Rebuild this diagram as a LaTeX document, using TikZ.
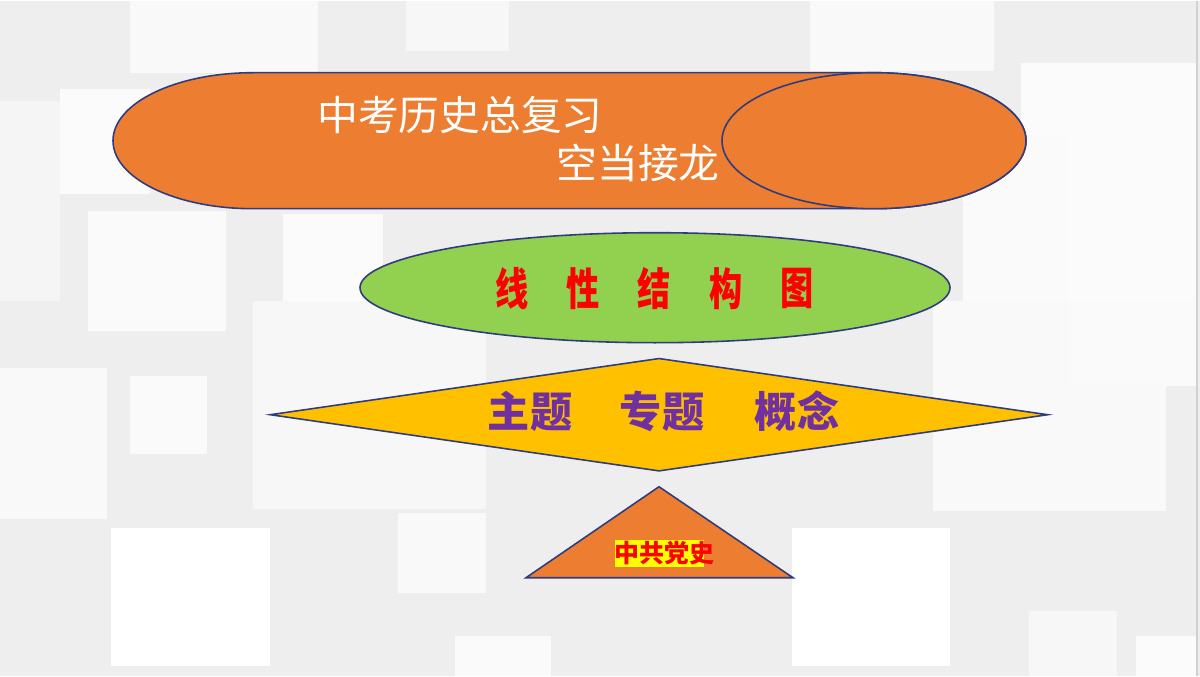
\documentclass[tikz,border=0pt]{standalone}
\usepackage{fontspec}
\newfontfamily\cjk{Noto Sans CJK SC}
\usetikzlibrary{shapes.geometric}
\definecolor{bgbase}{HTML}{EEEEEE}
\definecolor{orangeA}{HTML}{ED7D31}
\definecolor{greenA}{HTML}{92D050}
\definecolor{goldA}{HTML}{FFC000}
\definecolor{purpleA}{HTML}{7030A0}
\definecolor{navyA}{HTML}{2F3C7E}
\definecolor{markA}{HTML}{FFFF00}

\begin{document}
\begin{tikzpicture}[x=0.1mm, y=-0.1mm]
    \tikzstyle{Shape}=[draw=navyA, line width=0.45pt]
    \tikzstyle{TitleText}=[text=white, inner sep=0pt, font=\cjk\fontsize{11.6}{12}\selectfont]
    \tikzstyle{RedChar}=[text=red, inner sep=0pt, font=\cjk\bfseries\fontsize{12.6}{13}\selectfont]
    \tikzstyle{PurpleWord}=[text=purpleA, inner sep=0pt, font=\cjk\bfseries\fontsize{12}{13}\selectfont]
    % background with light tiles
    \fill[bgbase] (0,0) rectangle (1200,675);
    \foreach \xa/\ya/\xb/\yb/\g in {130/0/318/72/2.5, 406/0/509/50/3, 810/0/994/70/2.5,
        0/100/60/300/4, 60/88/150/193/1.5, 88/210/226/330/2, 283/213/383/317/1.5,
        1021/62/1197/340/1.5, 963/133/1067/317/2, 0/367/107/518/2.5, 130/375/207/453/2,
        253/300/486/508/3, 111/527/270/665/0, 398/512/486/592/2.5, 455/635/551/675/2,
        792/527/950/665/0, 933/300/1166/510/2.5, 1069/300/1197/385/2, 1029/610/1117/675/3,
        1136/635/1197/675/1.5}
        \fill[black!\g] (\xa,\ya) rectangle (\xb,\yb);
    \draw[black!18] (1197,0) -- (1197,675);
    % title bar
    \draw[Shape, fill=orangeA] (253,72) -- (874,72)
        arc[start angle=-90, end angle=90, x radius=152, y radius=68]
        -- (253,208) arc[start angle=90, end angle=270, x radius=140, y radius=68] -- cycle;
    \node[Shape, fill=orangeA, ellipse, inner sep=0pt, minimum width=30.4mm, minimum height=13.6mm] (oval) at (874,140) {};
    \node[TitleText] (title) at (460,114) {中考历史总复习};
    \node[TitleText] (subtitle) at (638,162) {空当接龙};
    % green ellipse
    \node[Shape, fill=greenA, ellipse, inner sep=0pt, minimum width=59mm, minimum height=11mm] (linear) at (655,287) {};
    \foreach \ch [count=\i from 0] in {线,性,结,构,图}
        \node[RedChar] (char\i) at (512+71.25*\i,288) {\scalebox{0.75}[1]{\ch}};
    % diamond
    \node[Shape, fill=goldA, diamond, inner sep=0pt, minimum width=77.8mm, minimum height=11.3mm] (topics) at (659,414) {};
    \foreach \w/\x [count=\i] in {主题/530, 专题/662, 概念/797}
        \node[PurpleWord] (word\i) at (\x,411) {\w};
    % triangle
    \coordinate (apex) at (659,486);
    \coordinate (baseR) at (793,577);
    \coordinate (baseL) at (526,577);
    \draw[Shape, fill=orangeA] (apex) -- (baseR) -- (baseL) -- cycle;
    \fill[markA] (615,539) rectangle (704,566);
    \node[anchor=west, text=red, inner sep=0pt, font=\cjk\bfseries\fontsize{7.1}{7.5}\selectfont] (party) at (614,552) {中共党史};
\end{tikzpicture}
\end{document}
